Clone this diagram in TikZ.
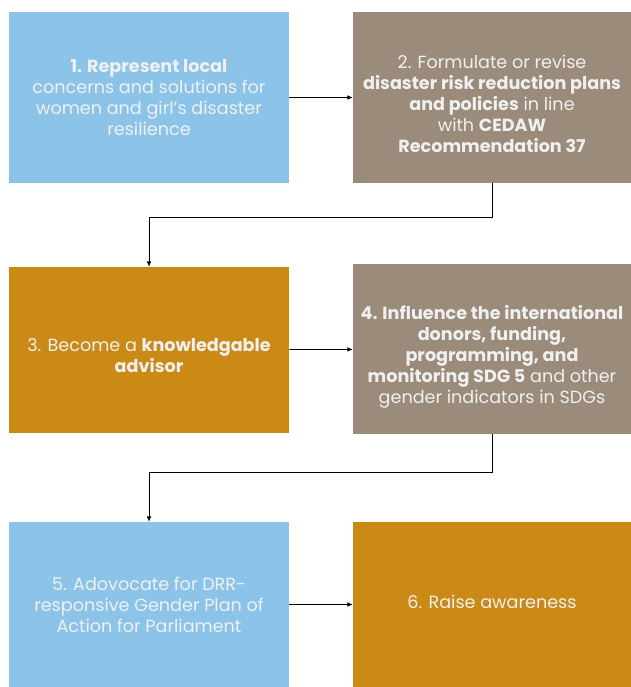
\documentclass[tikz,border=0pt]{standalone}
\usepackage{fontspec}
\setmainfont{Poppins}
\usepackage{tikz}
\usetikzlibrary{arrows.meta}

\definecolor{skyblue}{RGB}{139,195,233}
\definecolor{taupe}{RGB}{154,139,122}
\definecolor{amber}{RGB}{203,138,21}
\definecolor{paletext}{RGB}{240,240,240}

\tikzset{
    stage/.style={rectangle, inner sep=0pt, minimum width=210pt},
    caption/.style={align=center, inner sep=0pt, text=paletext,
        font=\fontsize{13.2}{15.8}\selectfont},
    flow/.style={-{Latex[length=4pt, width=3.5pt]}, line width=0.6pt, black}
}

\begin{document}
\begin{tikzpicture}[x=0.75pt, y=-0.75pt]
        \useasboundingbox (0, 0) rectangle (631, 687);

        \node[stage, fill=skyblue, minimum height=128.25pt, label={[caption]center:{%
            \textbf{1. Represent local}\\ concerns and solutions for\\ women and girl’s disaster\\ resilience}}]
            at (149, 97.5) (s1) {};
        \node[stage, fill=taupe, minimum width=208.5pt, minimum height=128.25pt, label={[caption, yshift=-4.5pt]center:{%
            2. Formulate or revise\\ \textbf{disaster risk reduction plans}\\ \textbf{and policies} in line\\ with \textbf{CEDAW}\\ \textbf{Recommendation 37}}}]
            at (492, 97.5) (s2) {};
        \node[stage, fill=amber, minimum height=124.5pt, label={[caption, yshift=-4.5pt]center:{%
            3. Become a \textbf{knowledgable}\\ \textbf{advisor}}}]
            at (149, 350) (s3) {};
        \node[stage, fill=taupe, minimum width=208.5pt, minimum height=127.5pt, label={[caption, yshift=-6pt]center:{%
            \textbf{4. Influence the international}\\ \textbf{donors, funding,}\\ \textbf{programming, and}\\ \textbf{monitoring SDG 5} and other\\ gender indicators in SDGs}}]
            at (492, 349) (s4) {};
        \node[stage, fill=skyblue, minimum height=123.75pt, label={[caption]center:{%
            5. Adovocate for DRR-\\ responsive Gender Plan of\\ Action for Parliament}}]
            at (149, 604.5) (s5) {};
        \node[stage, fill=amber, minimum width=208.5pt, minimum height=123.75pt, label={[caption, yshift=2pt]center:{%
            6. Raise awareness}}]
            at (492, 604.5) (s6) {};

        \draw [flow] (s1) -- (s2);
        \draw [flow] (s2.south) -- ++(0, 34) -| (s3.north);
        \draw [flow] (s3) -- (s4);
        \draw [flow] (s4.south) -- ++(0, 38) -| (s5.north);
        \draw [flow] (s5) -- (s6);
    \end{tikzpicture}
\end{document}
